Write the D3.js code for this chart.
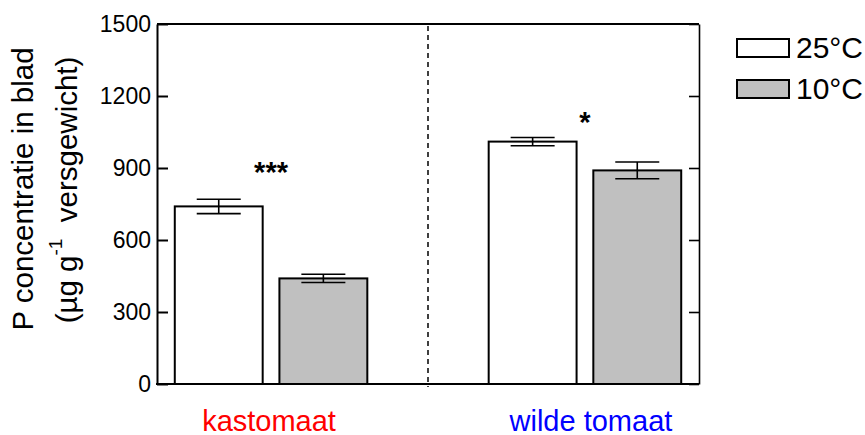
<!DOCTYPE html>
<html>
<head>
<meta charset="utf-8">
<script src="https://cdn.jsdelivr.net/npm/d3@7"></script>
<style>
  body { margin: 0; background: #fff; }
  text { font-family: "Liberation Sans", Arial, sans-serif; }
</style>
</head>
<body>
<svg id="chart" width="865" height="435"></svg>
<script>
// data
var groups = ["kastomaat", "wilde tomaat"];
var groupColors = ["#ff0000", "#0000ff"];
var temps = ["25°C", "10°C"];
var tempFill = ["#ffffff", "#c0c0c0"];
var means = [[740, 440], [1010, 890]];
var errors = [[30, 17], [17, 35]];
var signif = ["***", "*"];
var signifAt = [842, 1050];
var yTicks = [0, 300, 600, 900, 1200, 1500];

var svg = d3.select("#chart");
var mLeft = 157, mRight = 699, mTop = 24, mBottom = 384;

// x: bar slots 0,1 | 3,4 with the divider at 2
var x = d3.scaleLinear().domain([-0.59, 4.59]).range([mLeft, mRight]);
var y = d3.scaleLinear().domain([0, 1500]).range([mBottom, mTop]);
var barW = x(0.42) - x(0);

// flatten into bars
var bars = [];
groups.forEach(function (g, gi) {
    temps.forEach(function (t, ti) {
        bars.push({ g: gi, t: ti, pos: gi * 3 + ti, v: means[gi][ti], e: errors[gi][ti] });
    });
});

// divider
svg.append("line")
    .attr("x1", x(2)).attr("x2", x(2))
    .attr("y1", mTop + 2).attr("y2", mBottom + 3)
    .attr("stroke", "#000").attr("stroke-width", 1.5)
    .attr("stroke-dasharray", "5,4");

// bars
svg.selectAll(".bar").data(bars).enter().append("rect")
    .attr("class", "bar")
    .attr("x", function (d) { return x(d.pos) - barW; })
    .attr("width", barW * 2)
    .attr("y", function (d) { return y(d.v); })
    .attr("height", function (d) { return y(0) - y(d.v); })
    .attr("fill", function (d) { return tempFill[d.t]; })
    .attr("stroke", "#000").attr("stroke-width", 2);

// error bars
var cap = 22;
var eb = svg.selectAll(".err").data(bars).enter().append("g")
    .attr("stroke", "#000").attr("stroke-width", 1.6);
eb.append("line")
    .attr("x1", function (d) { return x(d.pos); })
    .attr("x2", function (d) { return x(d.pos); })
    .attr("y1", function (d) { return y(d.v + d.e); })
    .attr("y2", function (d) { return y(d.v - d.e); });
eb.append("line")
    .attr("x1", function (d) { return x(d.pos) - cap; })
    .attr("x2", function (d) { return x(d.pos) + cap; })
    .attr("y1", function (d) { return y(d.v + d.e); })
    .attr("y2", function (d) { return y(d.v + d.e); });
eb.append("line")
    .attr("x1", function (d) { return x(d.pos) - cap; })
    .attr("x2", function (d) { return x(d.pos) + cap; })
    .attr("y1", function (d) { return y(d.v - d.e); })
    .attr("y2", function (d) { return y(d.v - d.e); });

// significance stars
svg.selectAll(".sig").data(signif).enter().append("text")
    .attr("x", function (d, i) { return x(i * 3 + 0.5); })
    .attr("y", function (d, i) { return y(signifAt[i]); })
    .attr("text-anchor", "middle")
    .attr("font-size", 29).attr("font-weight", "bold")
    .text(function (d) { return d; });

// frame top line
svg.append("line").attr("x1", mLeft).attr("x2", mRight).attr("y1", mTop).attr("y2", mTop)
    .attr("stroke", "#000").attr("stroke-width", 2);

// left axis, ticks inward
var yAxis = svg.append("g").attr("transform", "translate(" + mLeft + ",0)")
    .call(d3.axisRight(y).tickValues(yTicks).tickSize(11).tickSizeOuter(0).tickFormat(d3.format("d")));
yAxis.select(".domain").attr("stroke-width", 2);
yAxis.selectAll(".tick line").attr("stroke-width", 2);
yAxis.selectAll(".tick text")
    .attr("x", -6).attr("text-anchor", "end")
    .attr("font-size", 23).attr("fill", "#000");

// right axis, ticks inward, no labels
var yAxisR = svg.append("g").attr("transform", "translate(" + mRight + ",0)")
    .call(d3.axisLeft(y).tickValues(yTicks).tickSize(10).tickSizeOuter(0).tickFormat(""));
yAxisR.select(".domain").attr("stroke-width", 1.6);
yAxisR.selectAll(".tick line").attr("stroke-width", 1.6);

// bottom axis
svg.append("line").attr("x1", mLeft - 1).attr("x2", mRight).attr("y1", mBottom).attr("y2", mBottom)
    .attr("stroke", "#000").attr("stroke-width", 2);

// group labels
svg.selectAll(".glab").data(groups).enter().append("text")
    .attr("x", function (d, i) { return x(i * 3 + 0.5) + (i === 0 ? -2 : 6); })
    .attr("y", 431)
    .attr("text-anchor", "middle")
    .attr("font-size", 29)
    .attr("fill", function (d, i) { return groupColors[i]; })
    .text(function (d) { return d; });

// y label
var yl = svg.append("text")
    .attr("transform", "translate(33,189) rotate(-90)")
    .attr("text-anchor", "middle")
    .attr("font-size", 29.5);
yl.append("tspan").attr("x", 0).attr("y", 0).text("P concentratie in blad");
var yl2 = svg.append("text")
    .attr("transform", "translate(77,190) rotate(-90)")
    .attr("text-anchor", "middle")
    .attr("font-size", 29.5)
    .attr("xml:space", "preserve");
yl2.append("tspan").text("(µg g");
yl2.append("tspan").attr("font-size", 19).attr("dy", -15).text("-1");
yl2.append("tspan").attr("dy", 15).text("  versgewicht)");

// legend
var lg = svg.selectAll(".leg").data(temps).enter().append("g")
    .attr("transform", function (d, i) { return "translate(737," + (39 + i * 41) + ")"; });
lg.append("rect").attr("width", 52).attr("height", 18)
    .attr("fill", function (d, i) { return tempFill[i]; })
    .attr("stroke", "#000").attr("stroke-width", 2);
lg.append("text").attr("x", 59).attr("y", 18.5)
    .attr("font-size", 30)
    .text(function (d) { return d; });
</script>
</body>
</html>
